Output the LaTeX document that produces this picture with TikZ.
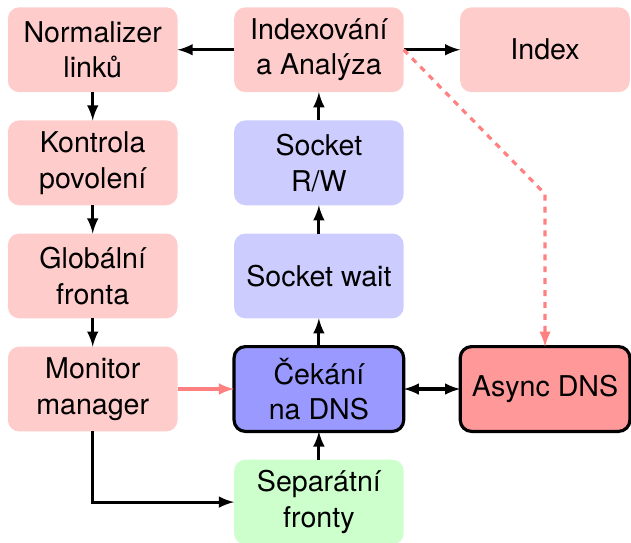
\documentclass[tikz,border=0pt]{standalone}
\usepackage{fontspec}
\setmainfont{TeX Gyre Heros}
\usepackage{tikz}

\begin{document}
\begin{tikzpicture}[every node/.style={minimum width=3cm, minimum height=1.5cm, rounded corners=0.2cm, outer sep=0pt, align=center, font=\Large},
  pinkbox/.style={fill=red!20},
  bluebox/.style={fill=blue!20},
  greenbox/.style={fill=green!20},
  mainbox/.style={fill=blue!40, draw=black, ultra thick},
  dnsbox/.style={fill=red!40, draw=black, ultra thick},
  link/.style={->, >=latex, ultra thick},
  redlink/.style={->, >=latex, ultra thick, color=red!50}]
\useasboundingbox (-1.64,0.88) rectangle (9.52,-8.72);

\node[pinkbox] (norm) at (0,0) {Normalizer\\linků};
\node[pinkbox] (perm) at (0,-2) {Kontrola\\povolení};
\node[pinkbox] (queue) at (0,-4) {Globální\\fronta};
\node[pinkbox] (mon) at (0,-6) {Monitor\\manager};

\node[pinkbox] (idx) at (4,0) {Indexování\\a Analýza};
\node[bluebox] (rw) at (4,-2) {Socket\\R/W};
\node[bluebox] (wait) at (4,-4) {Socket wait};
\node[mainbox] (dnswait) at (4,-6) {Čekání\\na DNS};
\node[greenbox] (sep) at (4,-8) {Separátní\\fronty};

\node[pinkbox] (index) at (8,0) {Index};
\node[dnsbox] (async) at (8,-6) {Async DNS};

\coordinate (bend) at (8,-2.55);

\draw[link] (idx) -- (norm);
\draw[link] (idx) -- (index);
\draw[link] (norm) -- (perm);
\draw[link] (perm) -- (queue);
\draw[link] (queue) -- (mon);
\draw[redlink] (mon) -- (dnswait);
\draw[link] (mon.south) |- (sep.west);
\draw[link] (sep) -- (dnswait);
\draw[link] (dnswait) -- (wait);
\draw[link] (wait) -- (rw);
\draw[link] (rw) -- (idx);
\draw[link, <->] (dnswait) -- (async);
\draw[redlink, dashed] (idx.east) -- (bend) -- (async.north);
\end{tikzpicture}
\end{document}
